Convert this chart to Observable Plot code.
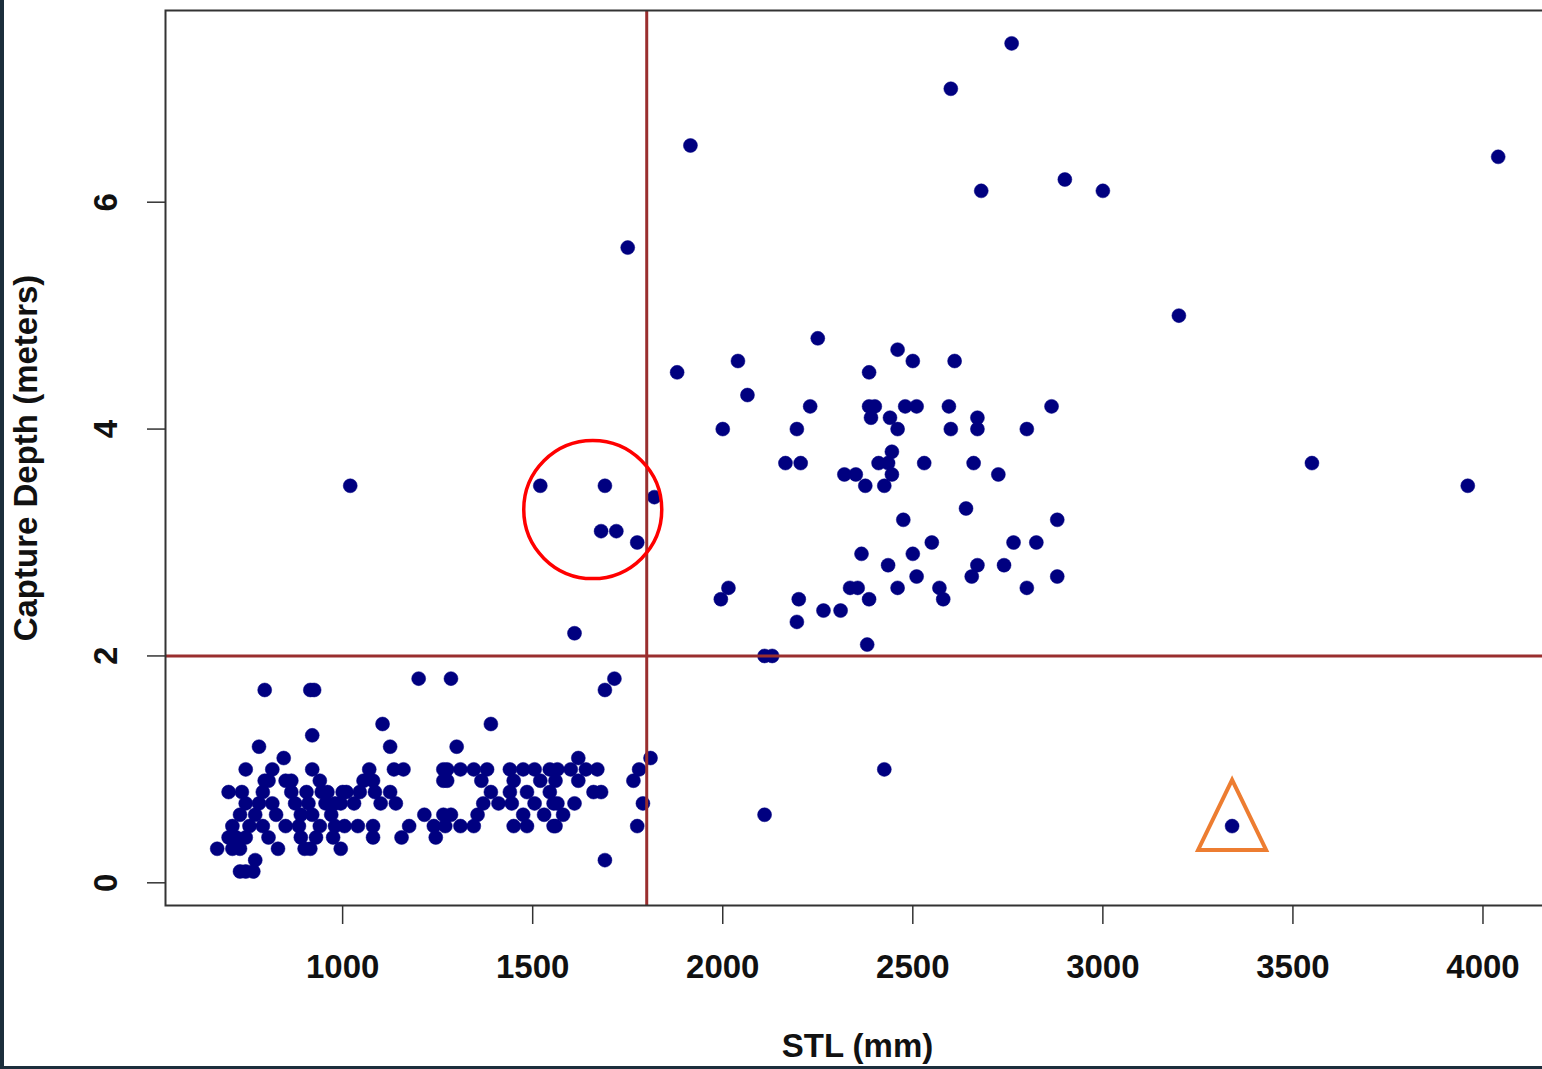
<!DOCTYPE html>
<html>
<head>
<meta charset="utf-8">
<script src="https://cdn.jsdelivr.net/npm/d3@7"></script>
<script src="https://cdn.jsdelivr.net/npm/@observablehq/plot@0.6"></script>
<style>
  html, body { margin: 0; padding: 0; background: #1c2e3c; width: 1542px; height: 1069px; overflow: hidden; }
  #wrap { position: absolute; left: 4px; top: 0; width: 1538px; height: 1066px; background: #fff; overflow: hidden; }
  #wrap svg { max-width: none !important; }
</style>
</head>
<body>
<div id="wrap"></div>
<script>
// ---- data (STL in mm, capture depth in meters) ----
const stl = [
  2760, 2600, 1915, 4040, 2900, 2680, 3000, 1750, 3200, 3550, 3960, 3340, 2425, 2110, 2110, 2130, 2380, 1020, 1610,
  1520, 1690, 1680, 1720, 1775, 1820,
  2250, 2040, 1880, 2460, 2500, 2385, 2065, 2230, 2385, 2400, 2390, 2480, 2510, 2440, 2460, 2000, 2195,
  2165, 2205, 2320, 2350, 2375, 2425, 2410, 2435, 2445, 2445, 2530, 2475, 2550, 2365, 2500, 2435, 2510,
  2015, 1995, 2200, 2195, 2265, 2310, 2335, 2355, 2385, 2460,
  2610, 2595, 2865, 2670, 2670, 2600, 2800, 2660, 2725, 2640, 2880, 2765, 2825, 2670, 2655, 2740, 2880, 2570, 2580, 2800,
  795, 915, 925, 1200, 1285, 1105, 1390, 920, 780, 1125, 1300, 845, 745, 815, 920, 1070, 1135, 1160, 1715, 1690,
  730, 745, 765,
  770, 1690,
  670, 710, 730, 830, 900, 915, 995,
  700, 720, 745, 805, 890, 930, 975, 1080, 1155, 1245,
  710, 755, 790, 850, 885, 940, 980, 1005, 1040, 1080, 1175, 1240, 1270, 1310, 1345, 1450, 1485, 1555, 1560, 1775,
  730, 770, 825, 890, 920, 970, 1215, 1265, 1285, 1355, 1475, 1530, 1580,
  745, 780, 815, 875, 910, 955, 980, 995, 1030, 1100, 1140, 1370, 1410, 1445, 1505, 1555, 1565, 1610, 1790,
  700, 735, 790, 865, 905, 945, 960, 1000, 1010, 1045, 1085, 1125, 1390, 1440, 1485, 1545, 1660, 1680,
  795, 805, 850, 865, 940, 1055, 1080, 1265, 1275, 1365, 1450, 1520, 1560, 1620, 1765,
  1265, 1275, 1310, 1345, 1380, 1440, 1475, 1505, 1545, 1565, 1600, 1640, 1670, 1780,
  1620, 1810
];
const depth = [
  7.4, 7.0, 6.5, 6.4, 6.2, 6.1, 6.1, 5.6, 5.0, 3.7, 3.5, 0.5, 1.0, 0.6, 2.0, 2.0, 2.1, 3.5, 2.2,
  3.5, 3.5, 3.1, 3.1, 3.0, 3.4,
  4.8, 4.6, 4.5, 4.7, 4.6, 4.5, 4.3, 4.2, 4.2, 4.2, 4.1, 4.2, 4.2, 4.1, 4.0, 4.0, 4.0,
  3.7, 3.7, 3.6, 3.6, 3.5, 3.5, 3.7, 3.7, 3.8, 3.6, 3.7, 3.2, 3.0, 2.9, 2.9, 2.8, 2.7,
  2.6, 2.5, 2.5, 2.3, 2.4, 2.4, 2.6, 2.6, 2.5, 2.6,
  4.6, 4.2, 4.2, 4.1, 4.0, 4.0, 4.0, 3.7, 3.6, 3.3, 3.2, 3.0, 3.0, 2.8, 2.7, 2.8, 2.7, 2.6, 2.5, 2.6,
  1.7, 1.7, 1.7, 1.8, 1.8, 1.4, 1.4, 1.3, 1.2, 1.2, 1.2, 1.1, 1.0, 1.0, 1.0, 1.0, 1.0, 1.0, 1.8, 1.7,
  0.1, 0.1, 0.1,
  0.2, 0.2,
  0.3, 0.3, 0.3, 0.3, 0.3, 0.3, 0.3,
  0.4, 0.4, 0.4, 0.4, 0.4, 0.4, 0.4, 0.4, 0.4, 0.4,
  0.5, 0.5, 0.5, 0.5, 0.5, 0.5, 0.5, 0.5, 0.5, 0.5, 0.5, 0.5, 0.5, 0.5, 0.5, 0.5, 0.5, 0.5, 0.5, 0.5,
  0.6, 0.6, 0.6, 0.6, 0.6, 0.6, 0.6, 0.6, 0.6, 0.6, 0.6, 0.6, 0.6,
  0.7, 0.7, 0.7, 0.7, 0.7, 0.7, 0.7, 0.7, 0.7, 0.7, 0.7, 0.7, 0.7, 0.7, 0.7, 0.7, 0.7, 0.7, 0.7,
  0.8, 0.8, 0.8, 0.8, 0.8, 0.8, 0.8, 0.8, 0.8, 0.8, 0.8, 0.8, 0.8, 0.8, 0.8, 0.8, 0.8, 0.8,
  0.9, 0.9, 0.9, 0.9, 0.9, 0.9, 0.9, 0.9, 0.9, 0.9, 0.9, 0.9, 0.9, 0.9, 0.9,
  1.0, 1.0, 1.0, 1.0, 1.0, 1.0, 1.0, 1.0, 1.0, 1.0, 1.0, 1.0, 1.0, 1.0,
  1.1, 1.1
];
const xTicks = [1000, 1500, 2000, 2500, 3000, 3500, 4000];
const yTicks = [0, 2, 4, 6];
const thresholdSTL = [1800];
const thresholdDepth = [2];
const circledSTL = [1658];
const circledDepth = [3.29];
const flaggedSTL = [3340];
const flaggedDepth = [0.5];
const xTitle = "STL (mm)";
const yTitle = "Capture Depth (meters)";

const points = stl.map((s, i) => ({stl: s, depth: depth[i]}));
const circled = circledSTL.map((s, i) => ({stl: s, depth: circledDepth[i]}));
const flagged = flaggedSTL.map((s, i) => ({stl: s, depth: flaggedDepth[i]}));

const tallTriangle = {
  draw(context, size) {
    const r = Math.sqrt(size / Math.PI);
    context.moveTo(0, -1.36 * r);
    context.lineTo(r, 0.7 * r);
    context.lineTo(-r, 0.7 * r);
    context.closePath();
  }
};

const font = "'Liberation Sans', Arial, sans-serif";
const labelStyle = {fontSize: 33, fontWeight: "bold", fill: "#111", fontFamily: font};

const chart = Plot.plot({
  width: 1545,
  height: 1066,
  marginLeft: 161,
  marginRight: 0,
  marginTop: 10,
  marginBottom: 161,
  style: {background: "#fff", fontFamily: font, maxWidth: "none", overflow: "hidden"},
  x: {domain: [534, 4175]},
  y: {domain: [-0.2, 7.69]},
  marks: [
    Plot.dot(points, {x: "stl", y: "depth", r: 7, fill: "#000080", stroke: "#000080", strokeWidth: 0.5}),
    Plot.ruleX(thresholdSTL, {x: d => d, stroke: "#9a2e2e", strokeWidth: 3}),
    Plot.ruleY(thresholdDepth, {y: d => d, stroke: "#9a2e2e", strokeWidth: 3}),
    Plot.dot(circled, {x: "stl", y: "depth", r: 69, fill: "none", stroke: "#ff0000", strokeWidth: 3.5}),
    Plot.dot(flagged, {x: "stl", y: "depth", r: 34, symbol: tallTriangle, fill: "none", stroke: "#ed7d31", strokeWidth: 4, strokeLinejoin: "miter"}),
    Plot.frame({stroke: "#333", strokeWidth: 2}),
    Plot.axisX(xTicks, {tickSize: 19, stroke: "#333", strokeWidth: 1.5, fill: "none", label: null}),
    Plot.axisY(yTicks, {tickSize: 18, stroke: "#333", strokeWidth: 1.5, fill: "none", label: null}),
    Plot.text(xTicks, {x: d => d, text: d => String(d), frameAnchor: "bottom", dy: 62, lineAnchor: "middle", textAnchor: "middle", ...labelStyle}),
    Plot.text(yTicks, {y: d => d, text: d => String(d), frameAnchor: "left", dx: -59, rotate: -90, lineAnchor: "middle", textAnchor: "middle", ...labelStyle}),
    Plot.text([xTitle], {text: d => d, frameAnchor: "bottom", dy: 141, lineAnchor: "middle", textAnchor: "middle", ...labelStyle}),
    Plot.text([yTitle], {text: d => d, frameAnchor: "left", dx: -139, rotate: -90, lineAnchor: "middle", textAnchor: "middle", ...labelStyle})
  ]
});
document.getElementById("wrap").appendChild(chart);
</script>
</body>
</html>
